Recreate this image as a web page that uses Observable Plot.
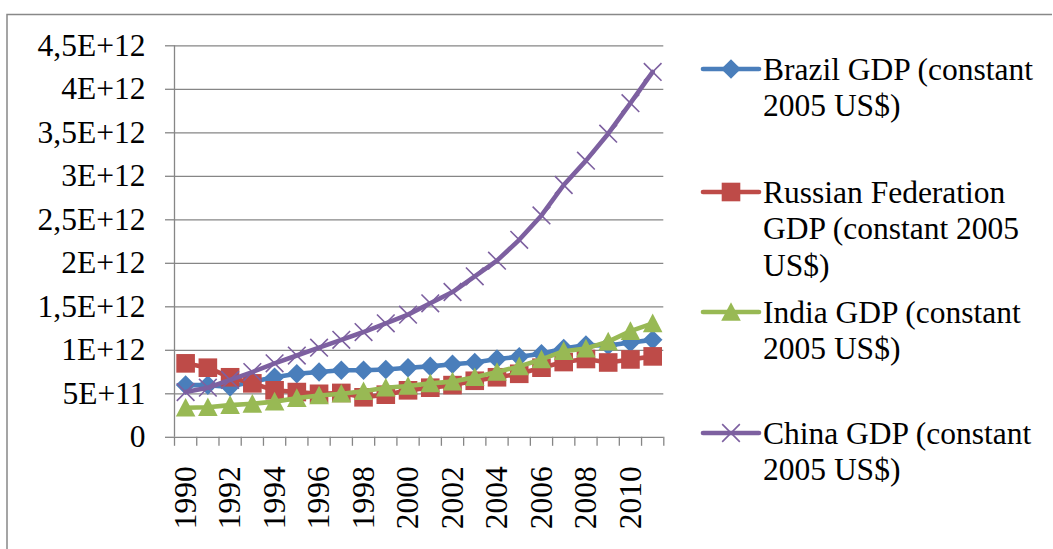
<!DOCTYPE html>
<html>
<head>
<meta charset="utf-8">
<script src="https://cdn.jsdelivr.net/npm/d3@7"></script>
<script src="https://cdn.jsdelivr.net/npm/@observablehq/plot@0.6"></script>
<style>
  body { margin: 0; background: #fff; }
  #wrap { position: relative; width: 1053px; height: 549px; overflow: hidden; background: #fff; }
  #wrap > svg { position: absolute; left: 0; top: 0; }
</style>
</head>
<body>
<div id="wrap"></div>
<script>
// GDP in constant 2005 US$, 1990–2011
const years = [1990, 1991, 1992, 1993, 1994, 1995, 1996, 1997, 1998, 1999, 2000,
               2001, 2002, 2003, 2004, 2005, 2006, 2007, 2008, 2009, 2010, 2011];

const brazil = [0.60e12, 0.60e12, 0.58e12, 0.64e12, 0.69e12, 0.73e12, 0.75e12, 0.77e12, 0.77e12, 0.78e12, 0.80e12,
                0.815e12, 0.84e12, 0.86e12, 0.90e12, 0.925e12, 0.96e12, 1.02e12, 1.06e12, 1.055e12, 1.09e12, 1.12e12];
const russia = [0.85e12, 0.80e12, 0.69e12, 0.62e12, 0.54e12, 0.52e12, 0.50e12, 0.51e12, 0.46e12, 0.49e12, 0.54e12,
                0.57e12, 0.60e12, 0.65e12, 0.69e12, 0.73e12, 0.80e12, 0.865e12, 0.90e12, 0.86e12, 0.895e12, 0.93e12];
const india  = [0.34e12, 0.345e12, 0.37e12, 0.385e12, 0.41e12, 0.45e12, 0.48e12, 0.50e12, 0.53e12, 0.57e12, 0.59e12,
                0.62e12, 0.64e12, 0.69e12, 0.75e12, 0.815e12, 0.895e12, 0.99e12, 1.02e12, 1.10e12, 1.22e12, 1.31e12];
const china  = [0.52e12, 0.57e12, 0.66e12, 0.75e12, 0.85e12, 0.94e12, 1.03e12, 1.12e12, 1.21e12, 1.31e12, 1.41e12,
                1.54e12, 1.67e12, 1.85e12, 2.03e12, 2.27e12, 2.55e12, 2.90e12, 3.18e12, 3.49e12, 3.84e12, 4.20e12];

const seriesNames = [
  "Brazil GDP (constant 2005 US$)",
  "Russian Federation GDP (constant 2005 US$)",
  "India GDP (constant 2005 US$)",
  "China GDP (constant 2005 US$)"
];
const legendLines = [
  ["Brazil GDP (constant", "2005 US$)"],
  ["Russian Federation", "GDP (constant 2005", "US$)"],
  ["India GDP (constant", "2005 US$)"],
  ["China GDP (constant", "2005 US$)"]
];

const yTicks = [0, 0.5e12, 1e12, 1.5e12, 2e12, 2.5e12, 3e12, 3.5e12, 4e12, 4.5e12];
const yTickLabels = ["0", "5E+11", "1E+12", "1,5E+12", "2E+12", "2,5E+12", "3E+12", "3,5E+12", "4E+12", "4,5E+12"];
const xTickLabels = [1990, 1992, 1994, 1996, 1998, 2000, 2002, 2004, 2006, 2008, 2010];

// Excel-style marker shapes (size → half-extent r)
const half = (size) => Math.sqrt(size / Math.PI);
const symDiamond = { draw(c, size) { const r = half(size); c.moveTo(0, -r); c.lineTo(r, 0); c.lineTo(0, r); c.lineTo(-r, 0); c.closePath(); } };
const symSquare  = { draw(c, size) { const r = half(size) * 0.95; c.moveTo(-r, -r); c.lineTo(r, -r); c.lineTo(r, r); c.lineTo(-r, r); c.closePath(); } };
const symTriangle = { draw(c, size) { const r = half(size); c.moveTo(0, -r); c.lineTo(r, r * 0.9); c.lineTo(-r, r * 0.9); c.closePath(); } };
const symTimes   = { draw(c, size) { const r = half(size) * 0.9; c.moveTo(-r, -r); c.lineTo(r, r); c.moveTo(r, -r); c.lineTo(-r, r); } };

const series = [
  { name: seriesNames[0], values: brazil, color: "#4A7EBB", symbol: symDiamond, filled: true },
  { name: seriesNames[1], values: russia, color: "#BE4B48", symbol: symSquare, filled: true },
  { name: seriesNames[2], values: india,  color: "#98B954", symbol: symTriangle, filled: true },
  { name: seriesNames[3], values: china,  color: "#7D60A0", symbol: symTimes, filled: false }
];

const rowsOf = (s) => s.values.map((v, i) => ({ name: s.name, year: years[i], gdp: v }));
const boundaries = years.map((y) => y - 0.5).concat([years[years.length - 1] + 0.5]);

const grey = "#868686";
const W = 1053, H = 549;
const plotLeft = 174, plotRight = 663.3, plotTop = 45.3, plotBottom = 436.8;
const fontPx = 31.5;
const markR = 9.8;

const seriesMarks = series.flatMap((s) => {
  const rows = rowsOf(s);
  return [
    Plot.line(rows, { x: "year", y: "gdp", stroke: s.color, strokeWidth: 4.6, strokeLinejoin: "round", strokeLinecap: "round" }),
    Plot.dot(rows, s.filled
      ? { x: "year", y: "gdp", symbol: () => s.symbol, r: markR, fill: s.color, stroke: "none" }
      : { x: "year", y: "gdp", symbol: () => s.symbol, r: markR, fill: "none", stroke: s.color, strokeWidth: 1.6 })
  ];
});

const chart = Plot.plot({
  width: W,
  height: H,
  marginLeft: plotLeft,
  marginRight: W - plotRight,
  marginTop: plotTop,
  marginBottom: H - plotBottom,
  style: { fontFamily: "'Liberation Serif', 'Times New Roman', serif", fontSize: `${fontPx}px`, color: "black", background: "transparent", overflow: "visible" },
  x: { type: "linear", domain: [boundaries[0], boundaries[boundaries.length - 1]], axis: null, label: null },
  y: { domain: [0, 4.5e12], axis: null, label: null },
  symbol: { type: "identity" },
  marks: [
    Plot.gridY(yTicks.slice(1), { stroke: grey, strokeOpacity: 1, strokeWidth: 1.3 }),
    Plot.ruleX([boundaries[0]], { y1: 0, y2: 4.5e12, stroke: grey, strokeWidth: 1.3 }),
    Plot.ruleY([0], { stroke: grey, strokeWidth: 1.3 }),
    Plot.axisY(yTicks, {
      tickSize: 9, tickPadding: 20, stroke: grey, strokeWidth: 1.3, fill: "black",
      fontSize: fontPx, label: null,
      tickFormat: (d) => yTickLabels[yTicks.indexOf(d)]
    }),
    Plot.axisX(boundaries, { tickSize: 9, stroke: grey, strokeWidth: 1.3, tickFormat: () => "", label: null }),
    Plot.axisX(xTickLabels, { tickSize: 0, tickPadding: 29, tickRotate: -90, fill: "black", fontSize: fontPx, label: null, tickFormat: (d) => String(d) }),
    ...seriesMarks
  ]
});

const wrap = document.getElementById("wrap");
wrap.appendChild(chart);

// outer chart-area border and legend
const over = d3.select(wrap).append("svg")
  .attr("width", W).attr("height", H)
  .style("pointer-events", "none");

over.append("path")
  .attr("d", `M7,${H + 5}V14.5H1052`)
  .attr("fill", "none").attr("stroke", "#888").attr("stroke-width", 1.5);

const legendY = [69, 192, 312, 433];
const lineH = 36.7;
const g = over.append("g")
  .attr("font-family", "'Liberation Serif', 'Times New Roman', serif")
  .attr("font-size", fontPx);

series.forEach((s, i) => {
  const y = legendY[i];
  g.append("line").attr("x1", 703).attr("x2", 759).attr("y1", y).attr("y2", y)
    .attr("stroke", s.color).attr("stroke-width", 4.6).attr("stroke-linecap", "round");
  const p = d3.path();
  s.symbol.draw(p, Math.PI * markR * markR);
  const m = g.append("path").attr("d", p.toString()).attr("transform", `translate(731,${y})`);
  if (s.filled) m.attr("fill", s.color);
  else m.attr("fill", "none").attr("stroke", s.color).attr("stroke-width", 1.6);
  legendLines[i].forEach((t, j) => {
    g.append("text").attr("x", 763).attr("y", y + 10.5 + j * lineH).attr("fill", "black").text(t);
  });
});
</script>
</body>
</html>
